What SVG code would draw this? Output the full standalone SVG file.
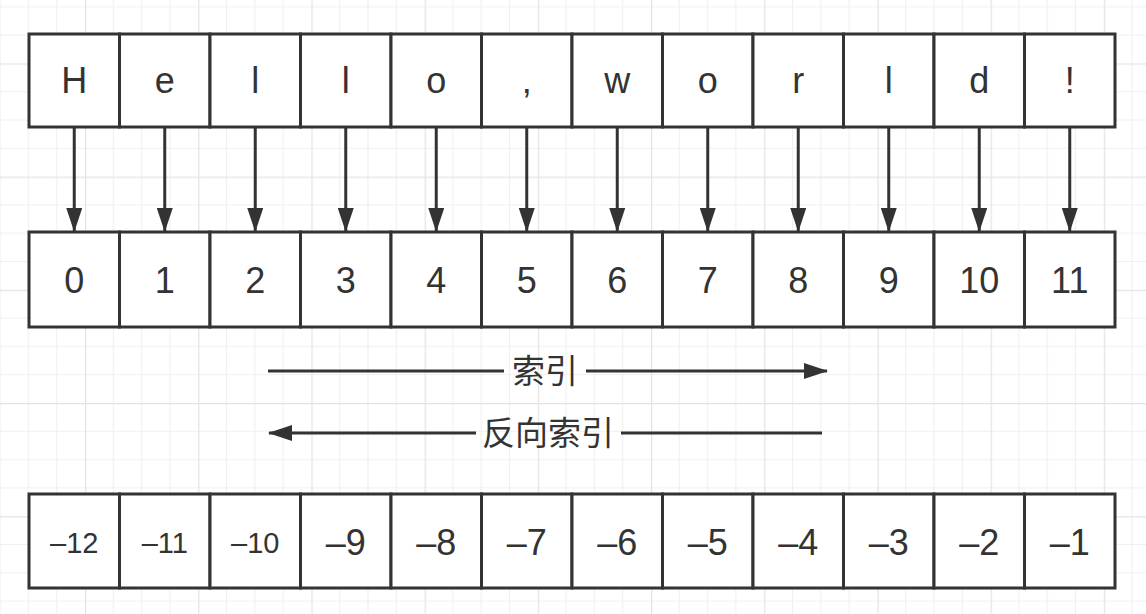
<svg xmlns="http://www.w3.org/2000/svg" width="1146" height="614" viewBox="0 0 1146 614">
<style>
.cell{fill:#ffffff;stroke:#333333;stroke-width:3}
.t{font-family:"Liberation Sans",Arial,sans-serif;font-size:36px;fill:#333333;text-anchor:middle}
.ts{font-size:29px}
.cn{font-family:"Noto Sans CJK SC",sans-serif;font-size:33px;fill:#333333;text-anchor:middle}
.ln{stroke:#333333;stroke-width:3;fill:none}
</style>
<defs>
<pattern id="grid" patternUnits="userSpaceOnUse" x="85" y="63.4" width="113.2" height="113.2">
<path d="M0,0H113.2M0,28.3H113.2M0,56.6H113.2M0,84.9H113.2M0,0V113.2M28.3,0V113.2M56.6,0V113.2M84.9,0V113.2" stroke="#f0f0f0" stroke-width="1.2" fill="none"/>
<path d="M0,0.5H113.2M0.5,0V113.2" stroke="#e4e4e4" stroke-width="1.5" fill="none"/>
</pattern>
<marker id="ah" markerUnits="userSpaceOnUse" markerWidth="24" markerHeight="16" refX="23" refY="8" orient="auto">
<path d="M0,0L24,8L0,16z" fill="#333333"/>
</marker>
</defs>
<rect width="1146" height="614" fill="#ffffff"/>
<rect width="1146" height="614" fill="url(#grid)"/>

<g id="connectors">
<line class="ln" x1="74.25" y1="128" x2="74.25" y2="231" marker-end="url(#ah)"/>
<line class="ln" x1="164.75" y1="128" x2="164.75" y2="231" marker-end="url(#ah)"/>
<line class="ln" x1="255.25" y1="128" x2="255.25" y2="231" marker-end="url(#ah)"/>
<line class="ln" x1="345.75" y1="128" x2="345.75" y2="231" marker-end="url(#ah)"/>
<line class="ln" x1="436.25" y1="128" x2="436.25" y2="231" marker-end="url(#ah)"/>
<line class="ln" x1="526.75" y1="128" x2="526.75" y2="231" marker-end="url(#ah)"/>
<line class="ln" x1="617.25" y1="128" x2="617.25" y2="231" marker-end="url(#ah)"/>
<line class="ln" x1="707.75" y1="128" x2="707.75" y2="231" marker-end="url(#ah)"/>
<line class="ln" x1="798.25" y1="128" x2="798.25" y2="231" marker-end="url(#ah)"/>
<line class="ln" x1="888.75" y1="128" x2="888.75" y2="231" marker-end="url(#ah)"/>
<line class="ln" x1="979.25" y1="128" x2="979.25" y2="231" marker-end="url(#ah)"/>
<line class="ln" x1="1069.75" y1="128" x2="1069.75" y2="231" marker-end="url(#ah)"/>
<g id="arrow-index">
<line class="ln" x1="268" y1="371" x2="504" y2="371"/>
<line class="ln" x1="586" y1="371" x2="827" y2="371" marker-end="url(#ah)"/>
<text class="cn" x="545" y="383">索引</text>
</g>
<g id="arrow-reverse">
<line class="ln" x1="476" y1="433" x2="269" y2="433" marker-end="url(#ah)"/>
<line class="ln" x1="621" y1="433" x2="822" y2="433"/>
<text class="cn" x="548" y="445">反向索引</text>
</g>
</g>

<g id="row-chars">
<g id="c0"><rect class="cell" x="29" y="34" width="90.5" height="93"/><text class="t" x="74.25" y="93">H</text></g>
<g id="c1"><rect class="cell" x="119.5" y="34" width="90.5" height="93"/><text class="t" x="164.75" y="93">e</text></g>
<g id="c2"><rect class="cell" x="210" y="34" width="90.5" height="93"/><text class="t" x="255.25" y="93">l</text></g>
<g id="c3"><rect class="cell" x="300.5" y="34" width="90.5" height="93"/><text class="t" x="345.75" y="93">l</text></g>
<g id="c4"><rect class="cell" x="391" y="34" width="90.5" height="93"/><text class="t" x="436.25" y="93">o</text></g>
<g id="c5"><rect class="cell" x="481.5" y="34" width="90.5" height="93"/><text class="t" x="526.75" y="93">,</text></g>
<g id="c6"><rect class="cell" x="572" y="34" width="90.5" height="93"/><text class="t" x="617.25" y="93">w</text></g>
<g id="c7"><rect class="cell" x="662.5" y="34" width="90.5" height="93"/><text class="t" x="707.75" y="93">o</text></g>
<g id="c8"><rect class="cell" x="753" y="34" width="90.5" height="93"/><text class="t" x="798.25" y="93">r</text></g>
<g id="c9"><rect class="cell" x="843.5" y="34" width="90.5" height="93"/><text class="t" x="888.75" y="93">l</text></g>
<g id="c10"><rect class="cell" x="934" y="34" width="90.5" height="93"/><text class="t" x="979.25" y="93">d</text></g>
<g id="c11"><rect class="cell" x="1024.5" y="34" width="90.5" height="93"/><text class="t" x="1069.75" y="93">!</text></g>
</g>

<g id="row-index">
<g id="i0"><rect class="cell" x="29" y="232" width="90.5" height="95"/><text class="t" x="74.25" y="293">0</text></g>
<g id="i1"><rect class="cell" x="119.5" y="232" width="90.5" height="95"/><text class="t" x="164.75" y="293">1</text></g>
<g id="i2"><rect class="cell" x="210" y="232" width="90.5" height="95"/><text class="t" x="255.25" y="293">2</text></g>
<g id="i3"><rect class="cell" x="300.5" y="232" width="90.5" height="95"/><text class="t" x="345.75" y="293">3</text></g>
<g id="i4"><rect class="cell" x="391" y="232" width="90.5" height="95"/><text class="t" x="436.25" y="293">4</text></g>
<g id="i5"><rect class="cell" x="481.5" y="232" width="90.5" height="95"/><text class="t" x="526.75" y="293">5</text></g>
<g id="i6"><rect class="cell" x="572" y="232" width="90.5" height="95"/><text class="t" x="617.25" y="293">6</text></g>
<g id="i7"><rect class="cell" x="662.5" y="232" width="90.5" height="95"/><text class="t" x="707.75" y="293">7</text></g>
<g id="i8"><rect class="cell" x="753" y="232" width="90.5" height="95"/><text class="t" x="798.25" y="293">8</text></g>
<g id="i9"><rect class="cell" x="843.5" y="232" width="90.5" height="95"/><text class="t" x="888.75" y="293">9</text></g>
<g id="i10"><rect class="cell" x="934" y="232" width="90.5" height="95"/><text class="t" x="979.25" y="293">10</text></g>
<g id="i11"><rect class="cell" x="1024.5" y="232" width="90.5" height="95"/><text class="t" x="1069.75" y="293">11</text></g>
</g>

<g id="row-negative">
<g id="n0"><rect class="cell" x="29" y="494" width="90.5" height="94"/><text class="t ts" x="74.25" y="553">–12</text></g>
<g id="n1"><rect class="cell" x="119.5" y="494" width="90.5" height="94"/><text class="t ts" x="164.75" y="553">–11</text></g>
<g id="n2"><rect class="cell" x="210" y="494" width="90.5" height="94"/><text class="t ts" x="255.25" y="553">–10</text></g>
<g id="n3"><rect class="cell" x="300.5" y="494" width="90.5" height="94"/><text class="t" x="345.75" y="555">–9</text></g>
<g id="n4"><rect class="cell" x="391" y="494" width="90.5" height="94"/><text class="t" x="436.25" y="555">–8</text></g>
<g id="n5"><rect class="cell" x="481.5" y="494" width="90.5" height="94"/><text class="t" x="526.75" y="555">–7</text></g>
<g id="n6"><rect class="cell" x="572" y="494" width="90.5" height="94"/><text class="t" x="617.25" y="555">–6</text></g>
<g id="n7"><rect class="cell" x="662.5" y="494" width="90.5" height="94"/><text class="t" x="707.75" y="555">–5</text></g>
<g id="n8"><rect class="cell" x="753" y="494" width="90.5" height="94"/><text class="t" x="798.25" y="555">–4</text></g>
<g id="n9"><rect class="cell" x="843.5" y="494" width="90.5" height="94"/><text class="t" x="888.75" y="555">–3</text></g>
<g id="n10"><rect class="cell" x="934" y="494" width="90.5" height="94"/><text class="t" x="979.25" y="555">–2</text></g>
<g id="n11"><rect class="cell" x="1024.5" y="494" width="90.5" height="94"/><text class="t" x="1069.75" y="555">–1</text></g>
</g>
</svg>
